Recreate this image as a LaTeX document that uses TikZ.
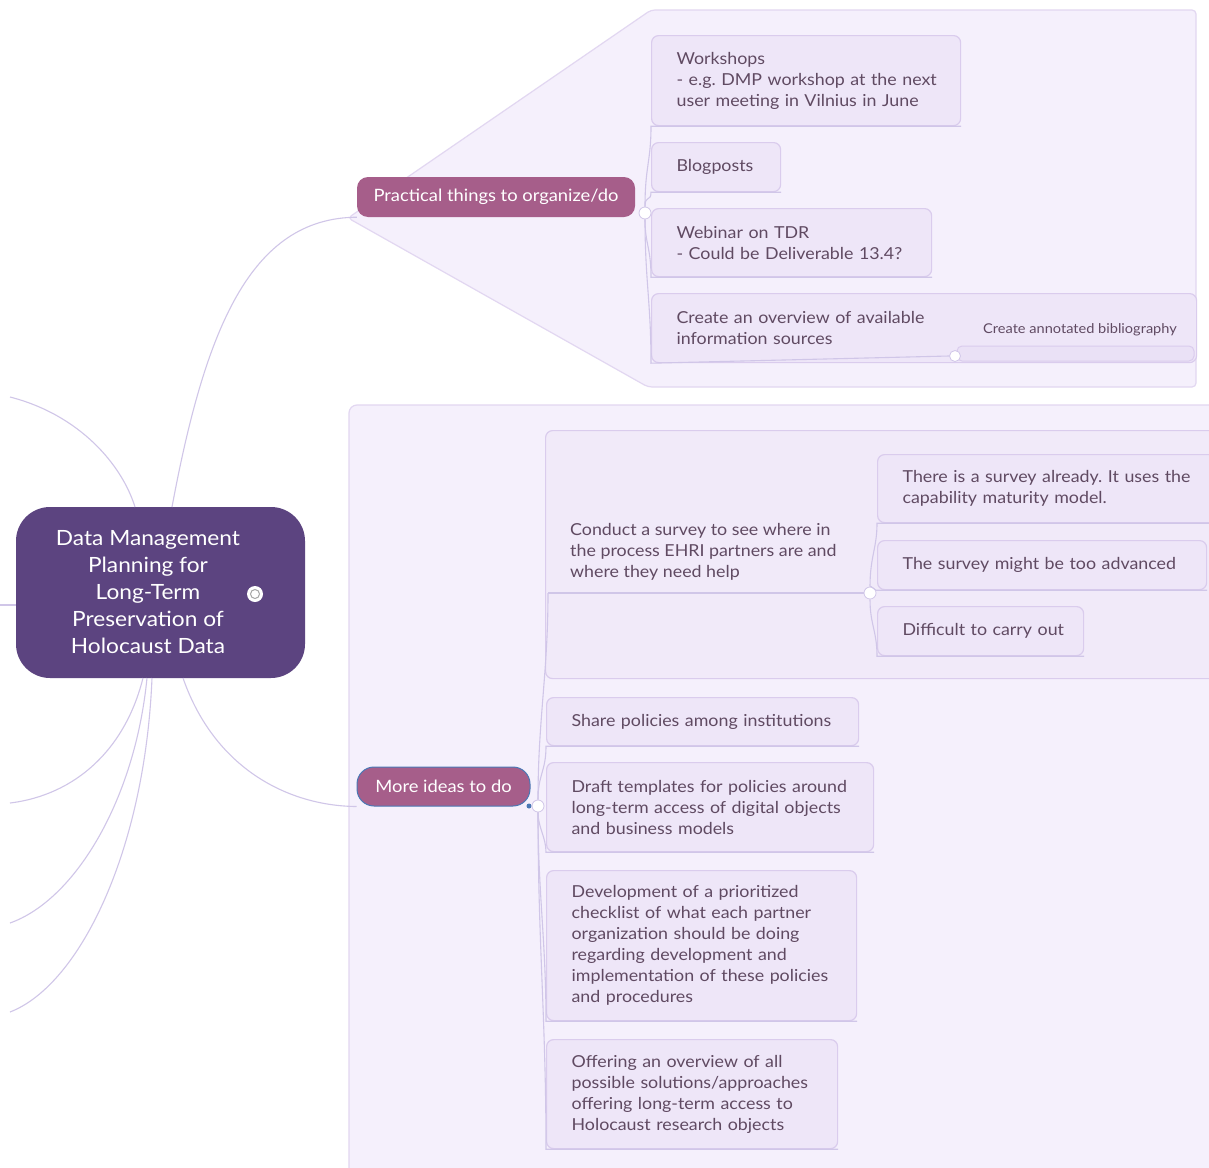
\documentclass[tikz,border=0pt]{standalone}
\usepackage{fontspec}
\setmainfont{Lato}[FakeStretch=1.08]
\definecolor{cen}{HTML}{5C4480}
\definecolor{br}{HTML}{A65E8A}
\definecolor{bg}{HTML}{F5F0FC}
\definecolor{bgline}{HTML}{E2D7F1}
\definecolor{bx}{HTML}{EEE6F8}
\definecolor{grp}{HTML}{F1EAF9}
\definecolor{bxline}{HTML}{DACCED}
\definecolor{con}{HTML}{D0C6E8}
\definecolor{txt}{HTML}{604A62}
\definecolor{sel}{HTML}{4A78B5}
\frenchspacing
\newcommand{\Ln}[1]{\mbox{#1}}
\hbadness=10000 \hfuzz=200pt
\begin{document}
\begin{tikzpicture}[x=1pt,y=-1pt,
  bxnode/.style={draw=bxline, fill=bx, line width=1.2pt, rounded corners=7pt, anchor=north west,
    align=left, inner xsep=25pt, inner ysep=0pt, text=txt, font=\fontsize{16.5}{21}\selectfont},
  txtnode/.style={text=txt, font=\fontsize{16.5}{21}\selectfont, align=left, inner sep=0pt},
  conn/.style={draw=con, line width=1.1pt},
  dotnode/.style={circle, fill=white, draw=con, line width=0.8pt, inner sep=0pt, minimum size=12pt},
  branch/.style={fill=br, text=white, font=\fontsize{17}{20}\selectfont, inner sep=0pt}]
\useasboundingbox (0,0) rectangle (1209,1167);
\clip (0,0) rectangle (1209,1167);
\fill[white] (0,0) rectangle (1209,1167);

% background regions
\draw[draw=bgline, fill=bg, line width=1.2pt, rounded corners=4pt]
  (348,218) -- (651,10) -- (1196,10) -- (1196,387) -- (648,387) -- cycle;
\draw[draw=bgline, fill=bg, line width=1.2pt, rounded corners=8pt]
  (349,1190) -- (349,405) -- (1230,405) -- (1230,1190);

% root
\node[fill=cen, rounded corners=34pt, minimum width=289pt, minimum height=171pt, inner sep=0pt] (root) at (160.5,592.5) {};
\node[text=white, align=center, font=\fontsize{21}{27}\selectfont, inner sep=0pt] (roottxt) at (148,592) {Data Management\\Planning for\\Long-Term\\Preservation of\\Holocaust Data};
\node[circle, fill=white, inner sep=0pt, minimum size=16pt] (rdot) at (255,594) {};
\node[circle, draw=gray!70, line width=1pt, inner sep=0pt, minimum size=9pt] (rdotin) at (rdot.center) {};

% branch nodes
\node[branch, rounded corners=11pt, minimum width=278pt, minimum height=40pt] (prac) at (496,197) {Practical things to organize/do};
\node[branch, draw=sel, line width=1pt, rounded corners=17pt, minimum width=173pt, minimum height=39pt] (more) at (443.5,786.5) {More ideas to do};
\node[circle, fill=sel, inner sep=0pt, minimum size=5pt] (seldot) at (529,806) {};

% connectors from root
\coordinate (lt) at (10,397);
\coordinate (lh) at (0,605);
\coordinate (lb1) at (10,803);
\coordinate (lb2) at (10,923);
\coordinate (lb3) at (10,1012);
\draw[conn] (172,507) .. controls (205,330) and (250,218) .. (prac.south west);
\draw[conn] (lt) .. controls (80,415) and (122,465) .. (135,507);
\draw[conn] (lh) -- (root.west |- lh);
\draw[conn] (143,678) .. controls (125,750) and (75,795) .. (lb1);
\draw[conn] (147,678) .. controls (135,800) and (75,900) .. (lb2);
\draw[conn] (152,678) .. controls (145,850) and (80,985) .. (lb3);
\draw[conn] (183,678) .. controls (215,770) and (290,806) .. (more.south west);

% practical children
\node[bxnode, text width=259pt, minimum height=90pt] (ws) at (651,35) {\Ln{Workshops}\\\Ln{- e.g. DMP workshop at the next}\\\Ln{user meeting in Vilnius in June}};
\node[bxnode, text width=79pt, minimum height=49pt] (blog) at (651,142) {\Ln{Blogposts}};
\node[bxnode, text width=230pt, minimum height=68pt] (web) at (651,208) {\Ln{Webinar on TDR}\\\Ln{- Could be Deliverable 13.4?}};
\node[bxnode, text width=495pt, minimum height=69pt] (over) at (651,293) {\Ln{Create an overview of available}\\\Ln{information sources}};
\draw[draw=bxline, fill=bx!80!bxline, line width=1pt, rounded corners=5pt] (957,346) rectangle (1194,361);
\node[text=txt, font=\fontsize{13.5}{15}\selectfont, anchor=base west, inner sep=0pt] (bib) at (983,333) {Create annotated bibliography};
\node[dotnode, minimum size=11pt] (odot) at (955,356) {};

\node[dotnode] (pdot) at (645,213) {};
\draw[conn] (pdot.north) .. controls +(0,-40) and +(0,35) .. (ws.south west) -- (ws.south east);
\draw[conn] (pdot.north) .. controls +(0,-12) and +(0,10) .. (blog.south west) -- (blog.south east);
\draw[conn] (pdot.south) .. controls +(0,25) and +(0,-30) .. (web.south west) -- (web.south east);
\draw[conn] (pdot.south) .. controls +(0,60) and +(0,-60) .. (over.south west) -- (odot.west);

% more ideas children
\node[bxnode, fill=grp, minimum width=672pt, minimum height=248pt, inner xsep=0pt] (grpbox) at (545,430) {};
\node[txtnode, anchor=west] (cs) at (570,552) {Conduct a survey to see where in\\the process EHRI partners are and\\where they need help};
\node[bxnode, text width=290pt, minimum height=68pt] (s1) at (877,454) {\Ln{There is a survey already. It uses the}\\\Ln{capability maturity model.}};
\node[bxnode, text width=279pt, minimum height=49pt] (s2) at (877,540) {\Ln{The survey might be too advanced}};
\node[bxnode, text width=156pt, minimum height=49pt] (s3) at (877,606) {\Ln{Difficult to carry out}};
\coordinate (csl) at (548,593);
\node[dotnode] (sdot) at (870,593) {};
\draw[conn] (csl) -- (sdot.west);
\draw[conn] (sdot.north) .. controls +(0,-30) and +(0,25) .. (s1.south west) -- (s1.south east);
\draw[conn] (sdot.north) .. controls +(0,-2) and +(0,2) .. (s2.south west) -- (s2.south east);
\draw[conn] (sdot.south) .. controls +(0,25) and +(0,-25) .. (s3.south west) -- (s3.south east);

\node[bxnode, text width=262pt, minimum height=48pt] (share) at (546,697) {\Ln{Share policies among institutions}};
\node[bxnode, text width=277pt, minimum height=89pt] (draft) at (546,762) {\Ln{Draft templates for policies around}\\\Ln{long-term access of digital objects}\\\Ln{and business models}};
\node[bxnode, text width=260pt, minimum height=150pt] (dev) at (546,870) {\Ln{Development of a prioritized}\\\Ln{checklist of what each partner}\\\Ln{organization should be doing}\\\Ln{regarding development and}\\\Ln{implementation of these policies}\\\Ln{and procedures}};
\node[bxnode, text width=241pt, minimum height=109pt] (offer) at (546,1039) {\Ln{Offering an overview of all}\\\Ln{possible solutions/approaches}\\\Ln{offering long-term access to}\\\Ln{Holocaust research objects}};

\node[dotnode] (mdot) at (538,806) {};
\draw[conn] (mdot.north) .. controls +(0,-80) and +(0,80) .. (csl);
\draw[conn] (mdot.north) .. controls +(0,-25) and +(0,25) .. (share.south west) -- (share.south east);
\draw[conn] (mdot.south) .. controls +(0,15) and +(0,-15) .. (draft.south west) -- (draft.south east);
\draw[conn] (mdot.south) .. controls +(0,80) and +(0,-80) .. (dev.south west) -- (dev.south east);
\draw[conn] (mdot.south) .. controls +(0,130) and +(0,-130) .. (offer.south west) -- (offer.south east);
\end{tikzpicture}
\end{document}
